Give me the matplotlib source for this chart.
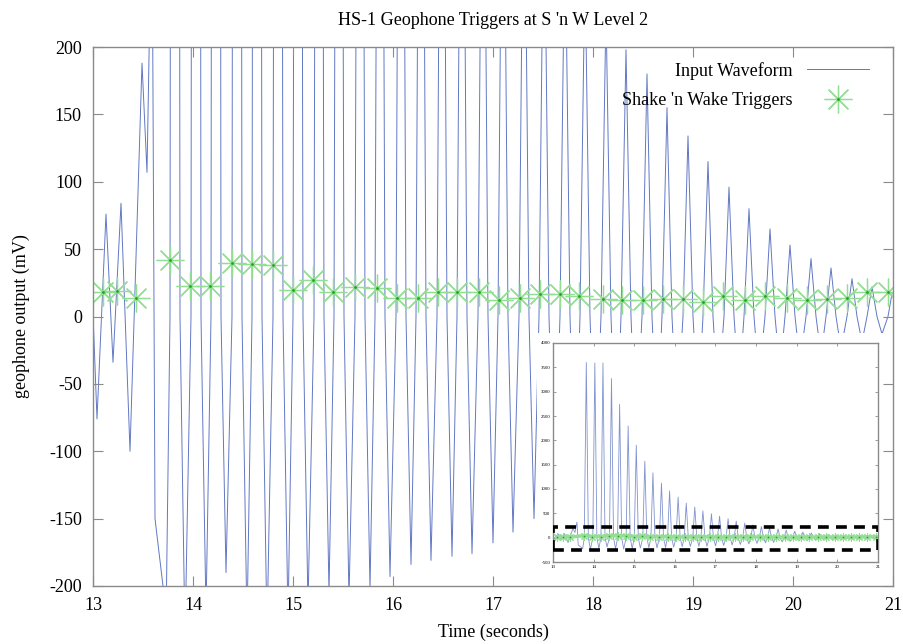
import matplotlib
matplotlib.use("Agg")
import matplotlib.pyplot as plt
from matplotlib.patches import Rectangle
from matplotlib.legend_handler import HandlerTuple

plt.rcParams['font.family'] = ['Liberation Serif', 'DejaVu Serif']
plt.rcParams['axes.unicode_minus'] = False

# --- Geophone waveform (seconds, mV) -------------------------------------
# first wiggles before the main shake
onset_t = [13.00, 13.04, 13.13, 13.20, 13.28, 13.37, 13.49, 13.54, 13.59, 13.62, 13.70, 13.73]
onset_mv = [2, -76, 76, -34, 84, -100, 188, 107, 320, -150, -200, -230]

# positive peaks of the ringing response
peak_t = [13.82, 14.03, 14.23, 14.44, 14.64, 14.85, 15.05, 15.26, 15.46, 15.67,
          15.87, 16.08, 16.28, 16.49, 16.69, 16.90, 17.10, 17.31, 17.51, 17.72,
          17.92, 18.13, 18.33, 18.54, 18.74, 18.95, 19.15, 19.36, 19.56, 19.77,
          19.97, 20.18, 20.38, 20.59, 20.79, 20.99]
peak_mv = [3600, 3590, 3590, 3270, 2740, 2295, 1900, 1570, 1330, 1120,
           960, 835, 710, 630, 550, 490, 440, 390, 340, 300,
           262, 228, 198, 180, 155, 134, 115, 96, 80, 65,
           53, 43, 36, 28, 22, 17]

# zero crossings on the way up / down
rise_t = [13.77, 13.98, 14.18, 14.39, 14.59, 14.80, 15.00, 15.21, 15.41, 15.62,
          15.82, 16.03, 16.23, 16.44, 16.64, 16.85, 17.05, 17.26, 17.46, 17.67,
          17.87, 18.08, 18.28, 18.49, 18.69, 18.90, 19.10, 19.31, 19.51, 19.72,
          19.92, 20.13, 20.33, 20.54, 20.74, 20.95]
fall_t = [13.87, 14.08, 14.28, 14.49, 14.69, 14.90, 15.10, 15.31, 15.51, 15.72,
          15.92, 16.13, 16.33, 16.54, 16.74, 16.95, 17.15, 17.36, 17.56, 17.77,
          17.97, 18.18, 18.38, 18.59, 18.79, 19.00, 19.20, 19.41, 19.61, 19.82,
          20.02, 20.23, 20.43, 20.64, 20.84]

# negative troughs
trough_t = [13.92, 14.13, 14.33, 14.54, 14.74, 14.95, 15.15, 15.36, 15.56, 15.77,
            15.97, 16.18, 16.38, 16.59, 16.79, 17.00, 17.20, 17.41, 17.61, 17.82,
            18.02, 18.23, 18.43, 18.64, 18.84, 19.05, 19.25, 19.46, 19.66, 19.87,
            20.07, 20.28, 20.48, 20.69, 20.89]
trough_mv = [-240, -220, -190, -230, -235, -225, -215, -205, -210, -202,
             -193, -184, -181, -178, -176, -168, -160, -150, -140, -128,
             -117, -106, -96, -86, -77, -68, -60, -53, -46, -40,
             -34, -29, -24, -19, -13]

# --- Shake 'n Wake trigger events ------------------------------------------
trig_t = [13.10, 13.24, 13.43, 13.77, 13.97, 14.17, 14.39, 14.59, 14.80, 15.00,
          15.20, 15.40, 15.62, 15.84, 16.04, 16.25, 16.45, 16.64, 16.86, 17.06,
          17.27, 17.47, 17.67, 17.86, 18.10, 18.29, 18.50, 18.70, 18.90, 19.10,
          19.30, 19.52, 19.72, 19.94, 20.14, 20.34, 20.54, 20.74, 20.95]
trig_mv = [18, 19, 14, 42, 23, 23, 40, 39, 38, 20,
           27, 18, 22, 21, 14, 14, 18, 18, 18, 12,
           14, 17, 17, 15, 13, 12, 12, 13, 13, 11,
           15, 12, 15, 14, 12, 13, 14, 18, 18]

x_ticks = [13, 14, 15, 16, 17, 18, 19, 20, 21]
y_ticks = [-200, -150, -100, -50, 0, 50, 100, 150, 200]
inset_y_ticks = [-500, 0, 500, 1000, 1500, 2000, 2500, 3000, 3500, 4000]
# extent of the main panel's window as marked on the overview
window_mv = (-245, 220)

# assemble the waveform vertex sequence
wave_t = list(onset_t)
wave_mv = list(onset_mv)
for k in range(len(peak_t)):
    wave_t += [rise_t[k], peak_t[k]]
    wave_mv += [0, peak_mv[k]]
    if k < len(trough_t):
        wave_t += [fall_t[k], trough_t[k]]
        wave_mv += [0, trough_mv[k]]

WAVE_C = '#6177c4'
TRIG_C = '#92de92'
DOT_C = '#2e9a2e'
FRAME_C = '#8a8a8a'
FS = 13

fig = plt.figure(figsize=(9.04, 6.44), dpi=100)
ax = fig.add_axes([93 / 904, 58 / 644, 800 / 904, 539 / 644])

line, = ax.plot(wave_t, wave_mv, color=WAVE_C, lw=0.7, zorder=2)
trig, = ax.plot(trig_t, trig_mv, ls='none', marker=(8, 2, 0), ms=20, mew=0.9,
                color=TRIG_C, zorder=2.1)
dot, = ax.plot(trig_t, trig_mv, ls='none', marker='o', ms=2, color=DOT_C,
               mec='none', zorder=2.2)

ax.set_xlim(13, 21)
ax.set_ylim(-200, 200)
ax.set_xticks(x_ticks)
ax.set_yticks(y_ticks)
ax.set_axisbelow(False)
ax.tick_params(direction='in', length=7, width=0.8, color=FRAME_C,
               top=True, right=True, labelsize=FS, pad=8)
for s in ax.spines.values():
    s.set_color(FRAME_C)
    s.set_linewidth(1.0)

ax.set_title("HS-1 Geophone Triggers at S 'n W Level 2", fontsize=FS, pad=16)
ax.set_xlabel("Time (seconds)", fontsize=FS, labelpad=7)
ax.set_ylabel("geophone output (mV)", fontsize=FS, labelpad=14)

leg = ax.legend([line, (trig, dot)], ["Input Waveform", "Shake 'n Wake Triggers"],
                handler_map={tuple: HandlerTuple(ndivide=1)},
                loc='upper right', bbox_to_anchor=(0.99, 1.003), frameon=False,
                markerfirst=False, fontsize=FS, handlelength=3.4,
                labelspacing=0.7, handletextpad=0.8)

# white backing for the overview panel
ax.add_patch(Rectangle((537 / 904, 56 / 644), 351 / 904, 255 / 644,
                       transform=fig.transFigure, facecolor='white',
                       edgecolor='none', zorder=2.3, clip_on=False))

# overview of the full waveform
ins = fig.add_axes([553 / 904, 82 / 644, 325 / 904, 219 / 644])
ins.plot(wave_t, wave_mv, color=WAVE_C, lw=0.6, alpha=0.8)
ins.plot(trig_t, trig_mv, ls='-', color=TRIG_C, lw=2.5, marker=(8, 2, 0),
         ms=6, mew=0.8)
ins.plot(trig_t, trig_mv, ls='none', marker='o', ms=1.2, color=DOT_C, mec='none')
ins.add_patch(Rectangle((13, window_mv[0]), 8, window_mv[1] - window_mv[0],
                        fill=False, edgecolor='black', lw=2.6, ls=(0, (3, 2)),
                        zorder=3))
ins.set_xlim(13, 21)
ins.set_ylim(-500, 4000)
ins.set_xticks(x_ticks)
ins.set_yticks(inset_y_ticks)
ins.tick_params(direction='in', length=2.5, width=0.6, color=FRAME_C,
                top=True, right=True, labelsize=3.5, pad=2)
for s in ins.spines.values():
    s.set_color(FRAME_C)
    s.set_linewidth(1.0)

fig.savefig("out.png", dpi=100)
